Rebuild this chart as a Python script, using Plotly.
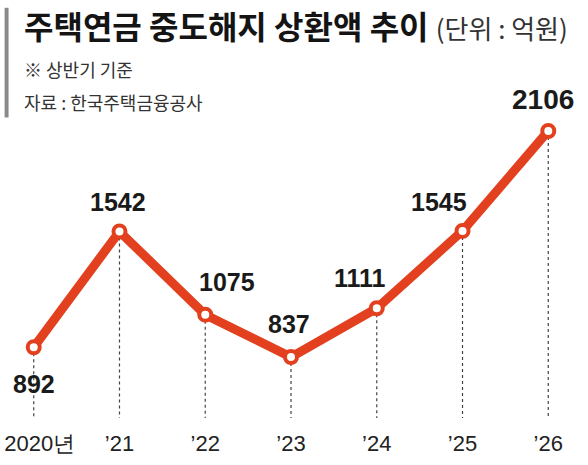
import plotly.graph_objects as go

# 주택연금 중도해지 상환액 (상반기 기준, 억원)
years = ['2020년', '’21', '’22', '’23', '’24', '’25', '’26']
amounts = [892, 1542, 1075, 837, 1111, 1545, 2106]

# label placement (px) relative to each point
label_dx = [0, -1, 22, -2, -17, -24, -5]
label_dy = [-37, 29, 33, 33, 30, 29, 32]
label_size = [25, 25, 25, 25, 25, 25, 28]

RED = '#e2401e'
NUM_FONT = 'Liberation Sans, Arial, sans-serif'
KR_FONT = 'Noto Sans CJK KR, Noto Sans, sans-serif'

x = list(range(len(years)))
y_min = 495
x_range = [-0.3, 6.3]

fig = go.Figure()
fig.add_trace(go.Scatter(
    x=x, y=amounts, mode='lines+markers',
    line=dict(color=RED, width=9),
    marker=dict(size=12, color='white', line=dict(color=RED, width=4)),
    hoverinfo='x+y', showlegend=False))
# empty trace so the second x axis (first year label) is drawn
fig.add_trace(go.Scatter(x=[x[0]], y=[None], xaxis='x2', mode='markers',
                         showlegend=False, hoverinfo='skip'))

# dashed drop lines from each point to the axis
for xi, v in zip(x, amounts):
    fig.add_shape(type='line', xref='x', yref='y', x0=xi, x1=xi, y0=v, y1=y_min,
                  line=dict(color='#444', width=1.2, dash='3px,3px'), layer='below')

# value labels
for xi, v, dx, dy, s in zip(x, amounts, label_dx, label_dy, label_size):
    fig.add_annotation(x=xi, y=v, text='<b>%d</b>' % v, showarrow=False,
                       xshift=dx, yshift=dy, xanchor='center', yanchor='middle',
                       font=dict(family=NUM_FONT, size=s, color='#1a1a1a'))

# titles
fig.add_annotation(xref='paper', yref='paper', x=0.0247, y=1.236, xanchor='left', yanchor='middle',
                   text="<b>주택연금 중도해지 상환액 추이</b> <span style='font-size:26px;color:#333'>(단위 : 억원)</span>",
                   showarrow=False, font=dict(family=KR_FONT, size=32, color='#141414'))
fig.add_annotation(xref='paper', yref='paper', x=0.0247, y=1.097, xanchor='left', yanchor='middle',
                   text='※ 상반기 기준', showarrow=False,
                   font=dict(family=KR_FONT, size=18, color='#333'))
fig.add_annotation(xref='paper', yref='paper', x=0.0247, y=0.993, xanchor='left', yanchor='middle',
                   text='자료 : 한국주택금융공사', showarrow=False,
                   font=dict(family=KR_FONT, size=18, color='#333'))
fig.add_shape(type='rect', xref='paper', yref='paper', x0=-0.006, x1=0.001, y0=0.945, y1=1.29,
              line=dict(width=0), fillcolor='#8a8a8a')

tick_style = dict(showgrid=False, zeroline=False, showline=False, automargin=False,
                  ticks='outside', ticklen=6, tickcolor='rgba(0,0,0,0)',
                  ticklabeloverflow='allow',
                  tickfont=dict(family=NUM_FONT, size=22, color='#222'))

fig.update_layout(
    width=588, height=465,
    margin=dict(l=8, r=14, t=100, b=47, autoexpand=False),
    paper_bgcolor='white', plot_bgcolor='white',
    xaxis=dict(range=x_range, tickmode='array', tickvals=x[1:], ticktext=years[1:], **tick_style),
    xaxis2=dict(range=x_range, overlaying='x', anchor='y', side='bottom', matches='x',
                tickmode='array', tickvals=x[:1], ticktext=years[:1], ticklabelshift=6, **tick_style),
    yaxis=dict(range=[y_min, 2280], visible=False),
)

fig.write_html('out.html', config={'displayModeBar': False},
               post_script="document.body.style.margin='0';")
